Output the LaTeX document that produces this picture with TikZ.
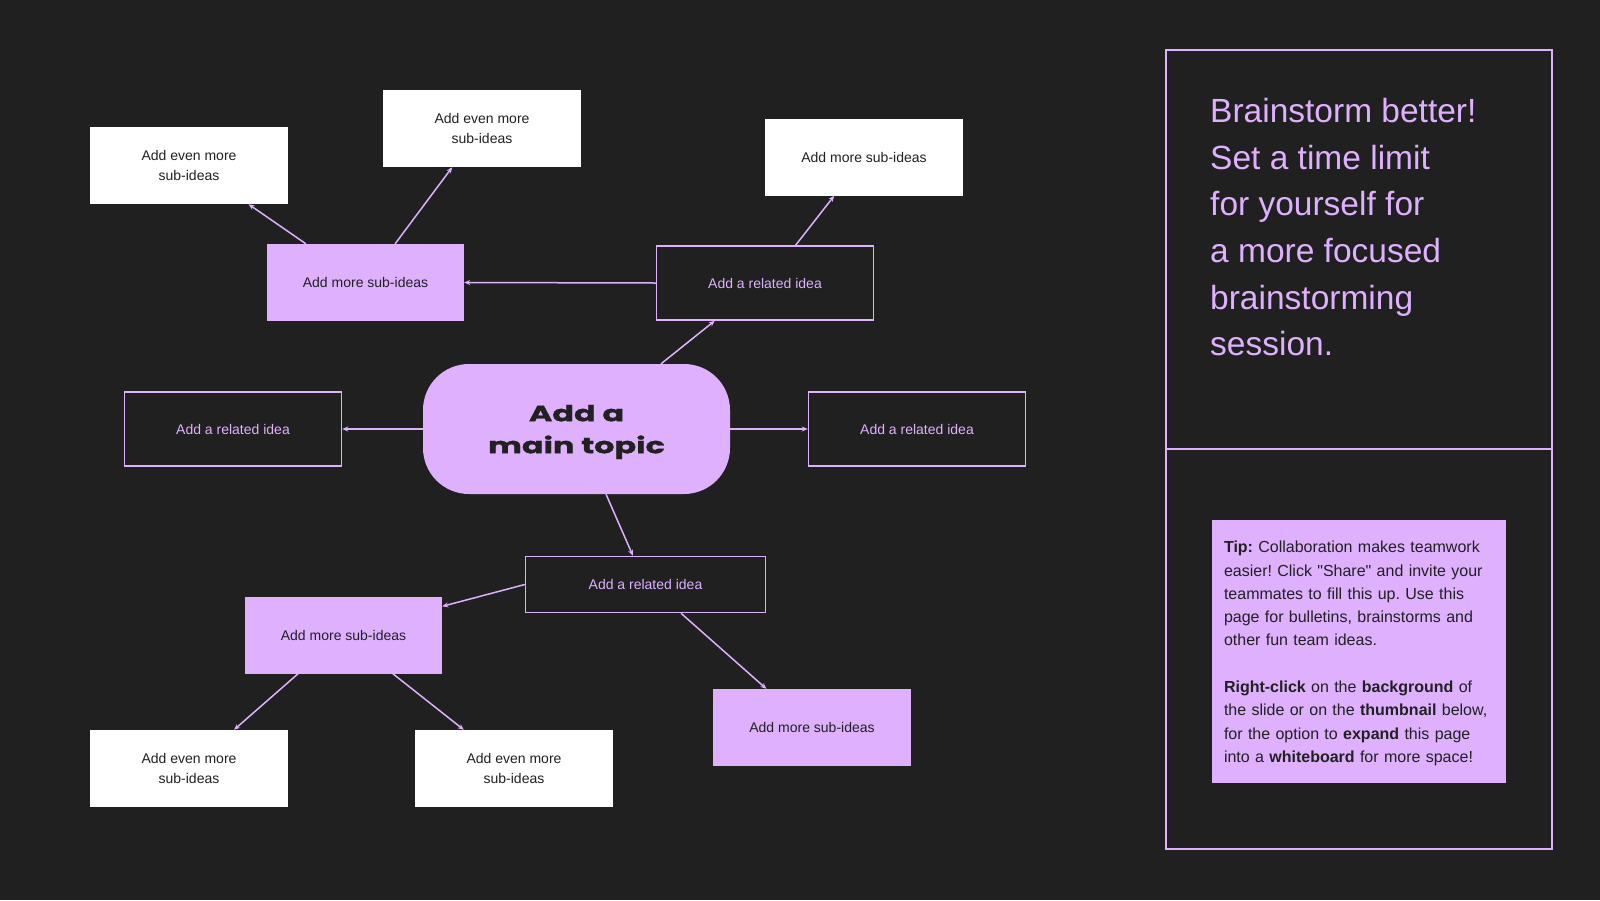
\documentclass[tikz,border=0pt]{standalone}
\usepackage{fontspec}
\setmainfont{Liberation Sans}
\newfontfamily\qfont{Liberation Sans}
\newfontfamily\topicfont[FakeStretch=1.45,FakeBold=1.2]{Poppins}
\usetikzlibrary{arrows.meta,calc}
\definecolor{bgc}{RGB}{32,32,32}
\definecolor{lav}{RGB}{222,176,254}
\definecolor{ink}{RGB}{33,33,33}
\frenchspacing
\begin{document}
\begin{tikzpicture}[x=1pt,y=-1pt,
  card/.style={rectangle, inner sep=0pt, minimum width=198pt, minimum height=77pt,
    align=center, font=\fontsize{14}{19.5}\selectfont},
  boxw/.style={card, fill=white, text=ink},
  boxp/.style={card, fill=lav, text=ink, minimum width=197pt},
  boxo/.style={card, draw=lav, line width=1.5pt, text=lav, minimum width=217pt, minimum height=74pt},
  conn/.style={draw=lav, line width=1.5pt, -{Stealth[length=6pt,width=5pt]}},
  frame/.style={draw=lav, line width=1.5pt}]
\fill[bgc] (0,0) rectangle (1600,900);
\useasboundingbox (0,0) rectangle (1600,900);

% nodes
\node[boxw] (w1) at (189,165.5) {Add even more\\sub-ideas};
\node[boxw] (w2) at (482,128.5) {Add even more\\sub-ideas};
\node[boxw] (w3) at (864,157) {Add more sub-ideas};
\node[boxp] (p1) at (365.5,282.5) {Add more sub-ideas};
\node[boxo] (r1) at (765,283) {Add a related idea};
\node[boxo] (r2) at (233,429) {Add a related idea};
\node[rectangle, rounded corners=46pt, fill=lav, minimum width=307pt, minimum height=130pt,
  inner sep=0pt] (m) at (576.5,429) {};
\node[inner sep=0pt, align=center, text=ink, font=\topicfont\bfseries\fontsize{22}{32}\selectfont]
  (mtext) at ($(m.center)+(0,3)$) {Add a\\main topic};
\node[boxo] (r3) at (917,429) {Add a related idea};
\node[boxo, minimum width=240pt, minimum height=56pt] (r4) at (645.5,584.5) {Add a related idea};
\node[boxp] (p2) at (343.5,635) {Add more sub-ideas};
\node[boxp, minimum width=198pt] (p3) at (812,727.5) {Add more sub-ideas};
\node[boxw] (w4) at (189,768.5) {Add even more\\sub-ideas};
\node[boxw] (w5) at (514,768.5) {Add even more\\sub-ideas};

% connectors
\draw[conn] ($(p1.north west)!0.198!(p1.north east)$) -- ($(w1.south west)!0.80!(w1.south east)$);
\draw[conn] ($(p1.north west)!0.65!(p1.north east)$) -- ($(w2.south west)!0.35!(w2.south east)$);
\draw[conn] (r1.west) -- (p1.east);
\draw[conn] ($(r1.north west)!0.64!(r1.north east)$) -- ($(w3.south west)!0.35!(w3.south east)$);
\draw[conn] ($(m.north west)!0.775!(m.north east)$) -- ($(r1.south west)!0.27!(r1.south east)$);
\draw[conn] (m.west) -- (r2.east);
\draw[conn] (m.east) -- (r3.west);
\draw[conn] ($(m.south west)!0.596!(m.south east)$) -- ($(r4.north west)!0.448!(r4.north east)$);
\draw[conn] (r4.west) -- ($(p2.north east)!0.13!(p2.south east)$);
\draw[conn] ($(r4.south west)!0.647!(r4.south east)$) -- ($(p3.north west)!0.27!(p3.north east)$);
\draw[conn] ($(p2.south west)!0.27!(p2.south east)$) -- ($(w4.north west)!0.727!(w4.north east)$);
\draw[conn] ($(p2.south west)!0.75!(p2.south east)$) -- ($(w5.north west)!0.247!(w5.north east)$);

% right panel
\node[frame, rectangle, inner sep=0pt, minimum width=386pt, minimum height=799pt] (panel) at (1359,449.5) {};
\draw[frame] (panel.west |- 0,449) coordinate (dl) -- (panel.east |- 0,449) coordinate (dr);
\node[anchor=north west, inner sep=0pt, text=lav, align=left,
  font=\fontsize{33.5}{46.7}\selectfont] (title) at (1210,98)
  {Brainstorm better!\\Set a time limit\\for yourself for\\a more focused\\brainstorming\\session.};
\node[rectangle, fill=lav, minimum width=294pt, minimum height=263pt, inner sep=0pt] (tip) at (1359,651.5) {};
\node[inner sep=0pt, text=ink, text width=270pt, align=left, font=\fontsize{16}{23.3}\selectfont]
  (tiptext) at ($(tip.center)+(0,2)$)
  {\textbf{Tip:} Collaboration makes teamwork\\easier! Click {\qfont"}Share{\qfont"} and invite your\\teammates to fill this up. Use this\\page for bulletins, brainstorms and\\other fun team ideas.\\[23.3pt]\textbf{Right-click} on the \textbf{background} of\\the slide or on the \textbf{thumbnail} below,\\for the option to \textbf{expand} this page\\into a \textbf{whiteboard} for more space!};
\end{tikzpicture}
\end{document}
